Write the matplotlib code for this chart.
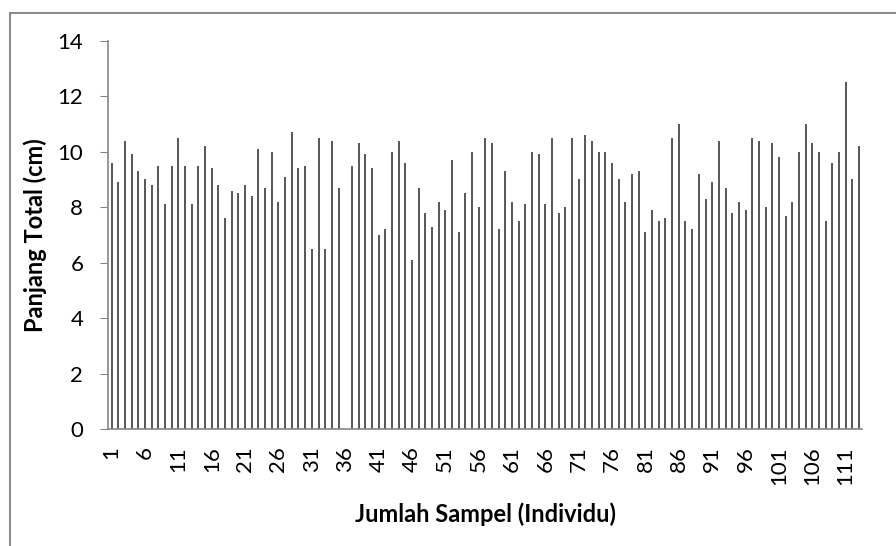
import numpy as np
import matplotlib.pyplot as plt
from matplotlib.patches import Rectangle

# sample numbers 1..113 (sample 36 has no value)
sampel = np.arange(1, 114)

panjang = [
    9.6, 8.9, 10.4, 9.9, 9.3, 9.0, 8.8, 9.5, 8.1, 9.5,
    10.5, 9.5, 8.1, 9.5, 10.2, 9.4, 8.8, 7.6, 8.6, 8.5,
    8.8, 8.4, 10.1, 8.7, 10.0, 8.2, 9.1, 10.7, 9.4, 9.5,
    6.5, 10.5, 6.5, 10.4, 8.7, 0.0, 9.5, 10.3, 9.9, 9.4,
    7.0, 7.2, 10.0, 10.4, 9.6, 6.1, 8.7, 7.8, 7.3, 8.2,
    7.9, 9.7, 7.1, 8.5, 10.0, 8.0, 10.5, 10.3, 7.2, 9.3,
    8.2, 7.5, 8.1, 10.0, 9.9, 8.1, 10.5, 7.8, 8.0, 10.5,
    9.0, 10.6, 10.4, 10.0, 10.0, 9.6, 9.0, 8.2, 9.2, 9.3,
    7.1, 7.9, 7.5, 7.6, 10.5, 11.0, 7.5, 7.2, 9.2, 8.3,
    8.9, 10.4, 8.7, 7.8, 8.2, 7.9, 10.5, 10.4, 8.0, 10.3,
    9.8, 7.7, 8.2, 10.0, 11.0, 10.3, 10.0, 7.5, 9.6, 10.0,
    12.5, 9.0, 10.2
]

tick_pos = sampel[::5]
tick_lbl = [str(n) for n in tick_pos]

plt.rcParams['font.family'] = ['Lato', 'DejaVu Sans']

fig = plt.figure(figsize=(8.96, 5.46), dpi=100)
ax = fig.add_axes([0.1209, 0.2137, 0.8415, 0.7118])

ax.bar(sampel, panjang, width=0.3, color='#5a5a5a')

ax.set_xlim(0.5, 113.5)
ax.set_ylim(0, 14)
ax.set_yticks(np.arange(0, 15, 2))
ax.set_xticks(tick_pos)
ax.set_xticklabels(tick_lbl, rotation=90)

for side in ['top', 'right']:
    ax.spines[side].set_visible(False)
for side in ['left', 'bottom']:
    ax.spines[side].set_color('#868686')
    ax.spines[side].set_linewidth(1.2)

ax.tick_params(axis='y', length=6, color='#868686', labelsize=16, pad=12)
ax.tick_params(axis='x', length=0, labelsize=16, pad=12)

ax.set_ylabel('Panjang Total (cm)', fontsize=17, fontweight='bold')
ax.set_xlabel('Jumlah Sampel (Individu)', fontsize=17, fontweight='bold')
ax.yaxis.set_label_coords(-0.081, 0.5)
ax.xaxis.set_label_coords(0.5, -0.189)

# chart area border
fig.patches.append(Rectangle((10 / 896, -0.05), 1.0, 1 - 13 / 546 + 0.05,
                             transform=fig.transFigure, fill=False,
                             edgecolor='#8c8c8c', linewidth=1.5))

fig.savefig('out.png', dpi=100)
